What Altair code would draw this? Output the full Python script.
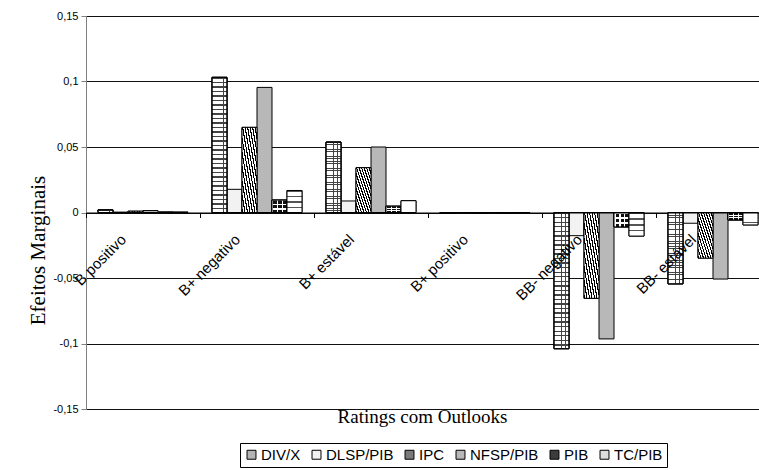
import altair as alt
import pandas as pd

categories = ["B positivo", "B+ negativo", "B+ estável", "B+ positivo", "BB- negativo", "BB- estável"]
series = ["DIV/X", "DLSP/PIB", "IPC", "NFSP/PIB", "PIB", "TC/PIB"]
div_x = [0.0020, 0.1032, 0.0538, -0.0006, -0.1040, -0.0545]
dlsp_pib = [0.0003, 0.0177, 0.0088, -0.0001, -0.0177, -0.0082]
ipc = [0.0010, 0.0650, 0.0342, -0.0002, -0.0655, -0.0348]
nfsp_pib = [0.0015, 0.0955, 0.0500, -0.0005, -0.0965, -0.0508]
pib = [0.0003, 0.0095, 0.0048, -0.0001, -0.0110, -0.0057]
tc_pib = [0.0003, 0.0168, 0.0090, -0.0001, -0.0180, -0.0095]
y_ticks = [-0.15, -0.1, -0.05, 0, 0.05, 0.1, 0.15]

values = {"DIV/X": div_x, "DLSP/PIB": dlsp_pib, "IPC": ipc,
          "NFSP/PIB": nfsp_pib, "PIB": pib, "TC/PIB": tc_pib}
rows = []
for s in series:
    for c, v in zip(categories, values[s]):
        rows.append({"category": c, "series": s, "value": v})
df = pd.DataFrame(rows)


def stripes(n, line, bg, frac, x1, y1, x2, y2):
    stops = []
    for i in range(n):
        a = i / n
        b = (i + frac) / n
        c = (i + 1) / n
        stops += [alt.GradientStop(offset=a, color=line), alt.GradientStop(offset=b, color=line),
                  alt.GradientStop(offset=b, color=bg), alt.GradientStop(offset=c, color=bg)]
    return alt.LinearGradient(gradient="linear", stops=stops, x1=x1, y1=y1, x2=x2, y2=y2)


x_enc = alt.X(
    "category:N", sort=categories,
    scale=alt.Scale(domain=categories, range=[0, 684], paddingInner=0, paddingOuter=0),
    axis=alt.Axis(
        title="Ratings com Outlooks", offset=-196.5, tickBand="extent", tickSize=5,
        tickColor="black", domainColor="black", labelAngle=-45, labelAlign="right",
        labelBaseline="middle", labelPadding=19, labelOffset=-20,
        labelFont="Liberation Sans", labelFontSize=15, labelColor="black",
        labelOverlap=False, titleFont="Liberation Serif", titleFontSize=19,
        titleFontWeight="normal", titleColor="black", titleX=336, titleY=210,
        titleBaseline="alphabetic", titleAlign="center", zindex=1, grid=False,
    ),
)
xo_enc = alt.XOffset("series:N", sort=series,
                     scale=alt.Scale(domain=series, paddingInner=0, paddingOuter=0.8))
y_enc = alt.Y(
    "value:Q",
    scale=alt.Scale(domain=[-0.15, 0.15], nice=False, zero=False),
    axis=alt.Axis(
        values=y_ticks,
        labelExpr="replace(toString(datum.value), '.', ',')",
        grid=True, gridColor="#111111", gridWidth=1, domainColor="#808080",
        tickColor="#808080", tickSize=5, labelFont="Liberation Sans", labelFontSize=11,
        labelColor="black", labelPadding=3, title="Efeitos Marginais",
        titleFont="Liberation Serif", titleFontSize=21, titleFontWeight="normal",
        titleColor="black", titleX=-42, titleY=234, titleBaseline="alphabetic",
        titleAlign="center",
    ),
)

legend_grays = ["#b4b4b4", "#f2f2f2", "#7a7a7a", "#b8b8b8", "#3c3c3c", "#dddddd"]

base = alt.Chart(df).mark_bar(stroke="black", strokeWidth=1).encode(
    x=x_enc, xOffset=xo_enc, y=y_enc,
    fill=alt.Fill(
        "series:N", sort=series,
        scale=alt.Scale(domain=series, range=legend_grays),
        legend=alt.Legend(
            orient="none", legendX=154, legendY=427, direction="horizontal", title=None,
            symbolType="square", symbolSize=80, symbolStrokeColor="black",
            symbolStrokeWidth=1, symbolOpacity=1, labelFont="Liberation Sans",
            labelFontSize=15, labelColor="black", strokeColor="black", padding=4,
            columnPadding=8, labelOffset=2, fillColor="white",
        ),
    ),
)


def overlay(name, grad):
    return alt.Chart(df).transform_filter(
        alt.datum.series == name
    ).mark_bar(fill=grad, stroke="black", strokeWidth=1).encode(
        x=x_enc, xOffset=xo_enc, y=y_enc
    )


grid_h = stripes(30, "#444444", "#ffffff", 0.3, 0, 0, 0, 1)
grid_v = stripes(4, "#444444", "rgba(255,255,255,0)", 0.1, 0, 0, 1, 0)
ipc_g = stripes(12, "#000000", "#ffffff", 0.45, 0, 1, 1, 0)
pib_h = stripes(3, "#ffffff", "#111111", 0.3, 0, 0, 0, 1)
pib_v = stripes(3, "#ffffff", "rgba(255,255,255,0)", 0.3, 0, 0, 1, 0)
tc_g = stripes(4, "#555555", "#ffffff", 0.22, 0, 0, 0, 1)

layers = [
    base,
    overlay("DIV/X", grid_h),
    overlay("DIV/X", grid_v),
    overlay("IPC", ipc_g),
    overlay("PIB", pib_h),
    overlay("PIB", pib_v),
    overlay("TC/PIB", tc_g),
]

chart = alt.layer(*layers).properties(
    width=673, height=393,
    autosize=alt.AutoSizeParams(type="none"),
    padding={"left": 86, "top": 16, "right": 0, "bottom": 61},
).configure_view(stroke=None)

chart.save("out.html", embed_options={"renderer": "svg", "actions": False})
